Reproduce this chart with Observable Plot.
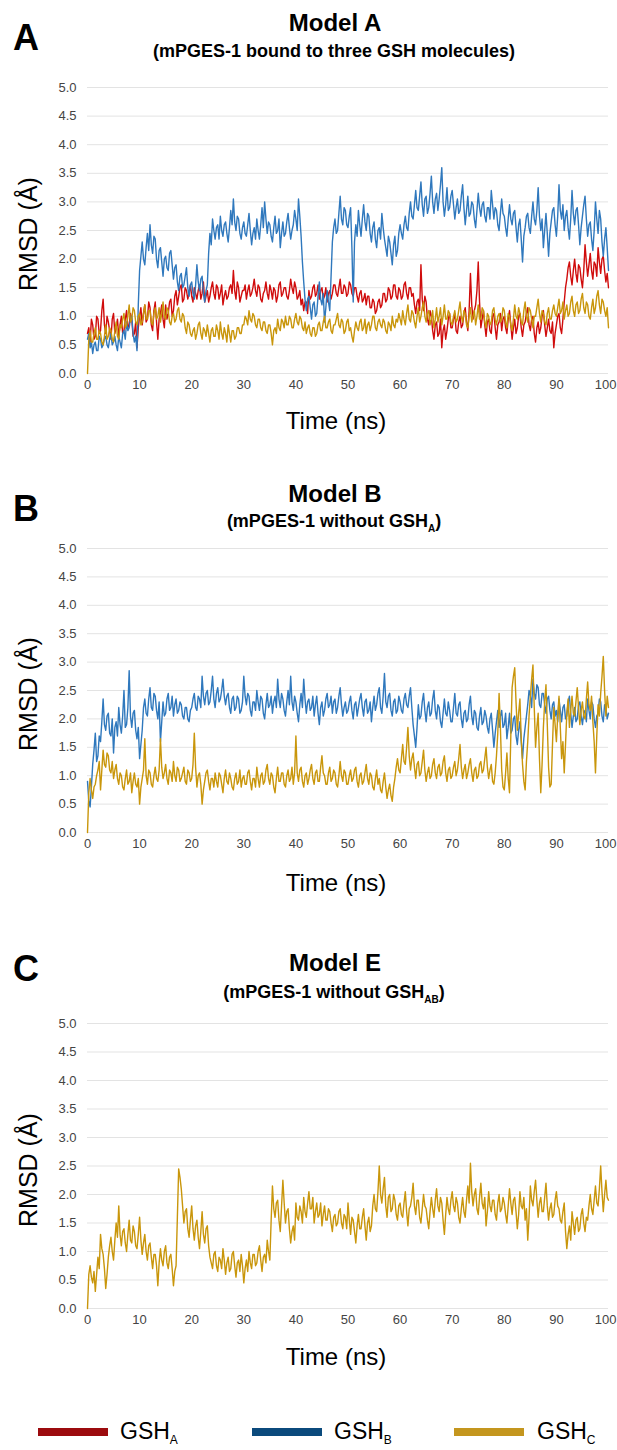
<!DOCTYPE html>
<html>
<head>
<meta charset="utf-8">
<script src="https://cdn.jsdelivr.net/npm/d3@7"></script>
<script src="https://cdn.jsdelivr.net/npm/@observablehq/plot@0.6"></script>
<style>
  html, body { margin: 0; padding: 0; background: #fff; }
  #page { position: relative; width: 617px; height: 1450px; overflow: hidden; font-family: "Liberation Sans", Arial, sans-serif; color: #000; }
  .abs { position: absolute; white-space: nowrap; line-height: 1; }
  .letter { font-size: 36px; font-weight: bold; }
  .title { font-size: 24px; font-weight: bold; transform: translateX(-50%); }
  .subtitle { font-size: 18px; font-weight: bold; transform: translateX(-50%); }
  .sub { font-size: 10px; position: relative; top: 5px; }
  .xlabel { font-size: 24px; transform: translateX(-50%); }
  .ylabel { font-size: 25px; transform: translate(-50%, -50%) rotate(-90deg); }
  .plot { position: absolute; left: 0; }
  .swatch { position: absolute; height: 8px; width: 70px; }
  .leg { font-size: 23px; }
  .legsub { font-size: 12px; position: relative; top: 5px; }
</style>
</head>
<body>
<div id="page"></div>
<script>
// ---------------- DATA ----------------
const timeStep = 0.25; // ns between samples (401 samples, 0–100 ns)
const xTicks = [0, 10, 20, 30, 40, 50, 60, 70, 80, 90, 100];
const yTicks = [0, 0.5, 1, 1.5, 2, 2.5, 3, 3.5, 4, 4.5, 5];
const seriesNames = ["GSH_A", "GSH_B", "GSH_C"];

// Model A — RMSD (Å) every 0.25 ns, one row = 10 ns
const modelA_GSHA = [
  0.70,0.80,0.55,0.95,0.85,0.60,0.65,1.00,0.95,0.70,0.75,1.10,1.30,0.85,0.70,1.00,0.90,0.75,0.60,0.95,1.05,0.70,0.80,0.95,0.65,0.85,1.00,0.70,0.75,0.95,1.10,0.80,0.85,1.05,0.95,0.65,0.70,0.90,0.45,0.80,
  1.00,1.15,0.85,1.05,1.20,0.90,0.95,1.25,1.15,0.85,0.75,1.10,1.25,0.90,0.60,0.95,1.05,1.20,0.95,0.80,1.20,0.95,1.05,1.25,1.30,1.00,1.10,1.35,1.45,1.20,1.35,1.50,1.55,1.25,1.30,1.50,1.45,1.30,1.40,1.55,
  1.35,1.25,1.50,1.40,1.30,1.45,1.55,1.30,1.40,1.60,1.25,1.35,1.45,1.25,1.35,1.50,1.60,1.40,1.30,1.55,1.50,1.30,1.40,1.55,1.20,1.35,1.45,1.30,1.35,1.50,1.55,1.40,1.80,1.45,1.30,1.60,1.50,1.25,1.35,1.45,
  1.45,1.55,1.30,1.45,1.55,1.35,1.40,1.50,1.65,1.45,1.35,1.55,1.50,1.30,1.25,1.40,1.45,1.60,1.40,1.30,1.55,1.45,1.30,1.50,1.45,1.25,1.35,1.55,1.60,1.35,1.40,1.50,1.50,1.35,1.30,1.45,1.65,1.50,1.40,1.60,
  1.50,1.30,1.35,1.45,1.20,1.30,1.10,1.25,1.25,1.05,1.45,1.30,1.35,1.50,1.55,1.35,1.40,1.55,1.30,1.45,1.50,1.30,1.35,1.50,1.25,1.40,1.45,1.30,1.40,1.55,1.55,1.40,1.35,1.50,1.65,1.40,1.40,1.55,1.50,1.35,
  1.40,1.60,1.55,1.40,1.35,1.50,1.50,1.35,1.25,1.40,1.45,1.25,1.30,1.40,1.20,1.35,1.35,1.15,1.15,1.30,1.25,1.05,1.10,1.25,1.30,1.15,1.20,1.40,1.40,1.25,1.30,1.50,1.45,1.30,1.35,1.55,1.55,1.35,1.30,1.50,
  1.45,1.30,1.35,1.55,1.60,1.40,1.30,1.50,1.50,1.35,1.40,1.20,1.05,1.25,1.30,1.10,1.90,1.30,1.10,1.35,1.25,0.95,0.85,1.10,1.00,0.75,0.60,0.85,0.90,0.65,0.70,0.95,0.45,0.75,0.85,0.60,0.75,0.95,1.05,0.80,
  0.80,0.95,1.05,0.75,0.70,0.90,1.00,0.80,0.85,1.05,1.15,0.90,0.75,1.10,1.75,1.20,0.95,1.10,1.20,1.45,1.95,1.25,0.80,0.95,1.10,0.85,0.65,0.90,0.95,0.75,0.70,1.00,1.05,0.80,0.60,0.85,0.90,1.05,0.75,0.95,
  1.00,0.80,0.70,0.95,1.10,0.85,0.60,0.80,0.95,0.70,0.80,1.00,1.05,0.80,0.65,0.85,0.90,1.05,1.15,0.85,0.75,0.95,1.00,0.70,0.55,0.80,0.90,0.70,0.80,1.00,1.10,0.85,0.65,0.80,0.95,0.75,0.70,0.90,0.45,0.70,
  0.85,1.00,1.05,0.80,0.70,0.95,1.25,1.50,1.65,1.85,1.95,1.70,1.55,1.80,2.00,1.75,1.60,1.90,1.85,1.65,1.50,1.80,2.25,1.95,1.70,1.90,2.10,1.80,1.65,1.95,1.90,1.70,2.20,1.95,1.75,2.00,2.05,1.80,1.60,1.75,
  1.50
];
const modelA_GSHB = [
  0.60,0.70,0.45,0.55,0.35,0.50,0.55,0.40,0.40,0.65,0.60,0.45,0.50,0.60,0.65,0.50,0.45,0.60,0.70,0.50,0.55,0.65,0.50,0.40,0.65,0.55,0.45,0.70,0.75,0.60,0.90,0.75,0.80,0.95,1.00,0.70,0.55,0.65,0.40,1.20,
  1.80,2.05,2.30,2.00,1.90,2.20,2.45,2.15,2.60,2.25,2.10,2.40,2.35,2.00,1.85,2.15,2.20,1.95,1.70,2.00,2.05,1.85,1.80,2.10,2.15,1.90,1.65,1.85,1.90,1.60,1.45,1.70,1.75,1.50,1.55,1.70,1.85,1.50,1.35,1.55,
  1.60,1.40,1.30,1.55,1.90,1.60,1.45,1.65,1.70,1.40,1.25,1.45,1.55,2.10,2.45,2.25,2.70,2.50,2.35,2.55,2.60,2.35,2.75,2.50,2.40,2.60,2.65,2.45,2.30,2.55,2.85,2.60,3.05,2.65,2.50,2.75,2.70,2.45,2.35,2.55,
  2.65,2.45,2.40,2.60,2.80,2.50,2.25,2.45,2.55,2.35,2.70,2.50,2.35,2.60,2.90,2.55,3.00,2.70,2.45,2.65,2.60,2.40,2.30,2.55,2.75,2.45,2.50,2.70,2.20,2.45,2.65,2.40,2.45,2.65,2.80,2.55,2.35,2.50,2.60,2.85,
  2.70,2.50,3.05,2.75,2.40,1.95,1.60,1.30,1.10,1.30,1.35,1.15,0.95,1.20,1.25,1.00,1.05,1.35,1.60,1.30,1.20,1.40,0.90,1.15,1.45,1.25,1.10,1.70,2.30,2.55,2.70,2.45,2.50,2.80,3.10,2.70,2.60,2.90,2.85,2.60,
  2.55,2.75,2.90,2.20,1.25,2.30,2.60,2.40,2.85,2.60,2.40,2.70,2.95,2.65,2.50,2.80,2.75,2.45,2.30,2.55,2.65,2.35,2.20,2.50,2.55,2.35,2.80,2.55,2.35,2.20,2.05,2.40,2.30,2.10,1.90,2.25,2.40,2.05,2.15,2.45,
  2.60,2.45,2.35,2.60,2.75,2.55,2.50,2.80,3.00,2.75,2.70,2.95,3.20,2.90,2.85,3.10,3.35,2.95,2.75,3.05,3.10,2.80,2.90,3.15,3.45,3.00,2.80,3.05,3.15,2.85,3.05,3.30,3.60,3.00,2.75,2.95,3.25,2.85,2.90,3.10,
  3.20,2.95,2.70,2.90,3.05,2.80,2.85,3.10,3.30,2.90,2.60,2.85,3.10,2.75,2.80,3.00,2.95,2.70,2.55,2.85,3.15,2.90,2.75,2.95,3.00,2.75,2.65,2.90,2.90,2.70,3.20,2.95,2.70,2.90,2.85,2.60,2.50,2.80,3.05,2.80,
  2.75,2.55,2.40,2.70,2.95,2.70,2.60,2.80,2.85,2.55,2.30,2.60,2.70,2.35,1.95,2.40,2.55,2.75,2.80,2.55,2.45,2.75,3.00,2.70,2.60,2.85,3.25,2.75,2.50,2.70,2.20,2.50,2.80,2.45,2.05,2.45,2.65,2.85,2.90,2.60,
  2.40,2.75,3.30,2.85,2.70,2.95,2.50,2.75,2.85,2.55,2.35,2.70,3.20,2.80,2.60,2.85,2.90,2.60,2.25,2.55,2.75,2.95,3.10,2.70,2.40,2.60,2.65,2.35,2.15,2.50,3.00,2.70,2.45,2.85,2.70,2.30,2.05,2.35,2.55,2.20,
  1.80
];
const modelA_GSHC = [
  0.00,0.60,0.75,0.55,0.55,0.70,0.80,0.60,0.60,0.75,0.70,0.55,0.50,0.65,0.85,0.60,0.65,0.80,0.75,0.60,0.55,0.75,0.90,0.65,0.60,0.85,0.80,0.95,1.05,0.80,0.85,1.00,1.20,0.90,0.95,1.15,1.10,0.90,0.85,1.00,
  1.05,0.85,0.90,1.05,1.20,0.95,0.95,1.10,1.10,0.90,0.85,1.05,1.15,0.95,1.00,1.15,0.90,1.05,1.25,1.00,0.95,1.15,1.10,0.90,0.85,1.00,1.05,0.90,0.95,1.10,1.15,0.95,0.90,1.05,1.00,0.80,0.70,0.90,0.85,0.70,
  0.65,0.75,0.80,0.60,0.70,0.85,0.90,0.70,0.60,0.80,0.75,0.65,0.85,0.70,0.55,0.75,0.80,0.65,0.65,0.85,0.75,0.60,0.90,0.70,0.60,0.80,0.70,0.55,0.85,0.70,0.55,0.75,0.75,0.60,0.65,0.80,0.80,0.70,0.70,0.85,
  0.85,1.00,0.95,0.85,1.10,0.95,0.90,1.05,1.00,0.85,0.80,0.95,0.95,0.80,0.75,0.90,0.90,0.75,0.70,0.85,0.85,0.70,0.50,0.75,0.80,0.70,0.95,0.80,0.75,0.95,0.90,0.80,1.00,0.85,0.85,1.00,0.95,0.80,0.80,0.95,
  1.05,0.90,0.85,1.00,0.95,0.80,0.75,0.90,0.70,0.80,0.85,0.70,0.65,0.80,0.80,0.65,0.70,0.85,0.90,0.75,0.75,0.90,1.00,0.80,0.80,0.90,0.95,0.75,0.70,0.85,0.85,0.95,1.05,0.85,0.80,0.95,0.90,0.70,0.75,0.90,
  0.95,0.75,0.80,0.65,0.55,0.75,0.90,0.80,0.75,0.90,0.95,0.75,0.80,0.95,0.70,0.85,0.90,0.75,0.85,1.00,1.00,0.80,0.75,0.90,0.95,0.85,0.80,0.95,0.90,0.75,0.70,0.90,0.85,0.75,1.00,0.85,0.80,0.95,0.90,1.05,
  0.95,0.85,1.10,0.95,0.85,1.05,1.20,0.95,0.90,1.10,1.05,0.90,0.80,1.00,1.15,0.90,1.00,1.15,1.25,1.00,0.90,1.05,1.10,0.85,0.95,1.10,0.80,0.95,1.15,0.90,1.00,1.15,0.85,1.00,1.20,0.95,0.95,1.10,1.05,0.90,
  0.85,1.00,1.10,0.90,0.95,1.10,1.25,1.00,0.90,1.10,1.05,0.85,0.80,1.00,1.15,0.90,1.00,1.10,0.85,1.00,1.20,0.95,0.95,1.15,1.10,0.90,0.80,1.05,1.00,0.85,0.90,1.10,1.15,0.95,0.85,1.00,1.05,0.90,0.95,1.15,
  1.10,0.90,0.80,1.05,1.00,0.85,0.75,0.95,1.20,1.00,0.95,1.15,1.05,0.90,0.85,1.10,1.25,1.00,0.90,1.15,1.10,0.95,0.80,1.00,1.00,1.15,1.30,1.05,0.90,1.10,1.05,0.90,0.85,1.05,1.15,0.95,0.95,1.10,1.20,1.05,
  1.00,1.15,1.30,1.05,1.10,1.25,0.95,1.10,1.20,1.00,1.05,1.25,1.35,1.10,1.00,1.20,1.25,1.05,1.10,1.30,1.40,1.15,1.05,1.25,1.20,1.00,0.95,1.15,1.30,1.05,1.15,1.35,1.45,1.20,1.05,1.30,1.25,1.10,1.00,1.15,
  0.80
];

// Model B
const modelB_GSHB = [
  0.90,0.55,0.45,0.80,1.20,1.45,1.75,1.25,1.35,1.70,1.60,1.95,2.35,1.90,1.80,2.05,2.10,1.75,1.70,2.00,1.40,1.85,1.95,1.70,2.20,1.90,1.75,2.05,2.50,1.85,1.90,2.20,2.85,2.05,1.85,2.10,2.15,1.80,1.65,1.85,
  1.30,1.55,1.80,2.20,2.35,2.10,2.05,2.35,2.55,2.20,2.15,2.45,2.40,2.15,2.00,2.30,1.60,1.95,2.30,2.05,2.10,2.35,2.45,2.15,2.20,2.40,2.05,2.25,2.35,2.10,2.15,2.30,2.25,2.05,2.00,2.20,2.20,2.00,1.95,2.15,
  2.20,2.35,2.45,2.20,2.15,2.40,2.35,2.20,2.75,2.40,2.25,2.45,2.50,2.25,2.30,2.50,2.75,2.35,2.20,2.45,2.55,2.30,2.35,2.50,2.70,2.40,2.25,2.40,2.45,2.20,2.10,2.35,2.40,2.15,2.20,2.40,2.35,2.10,2.15,2.30,
  2.75,2.40,2.25,2.45,2.40,2.15,2.05,2.30,2.30,2.15,2.50,2.30,2.15,2.40,2.35,2.10,2.00,2.25,2.45,2.20,2.25,2.40,2.10,2.30,2.40,2.20,2.70,2.35,2.20,2.45,2.35,2.15,2.05,2.30,2.50,2.25,2.75,2.30,2.15,2.40,
  2.30,2.10,1.95,2.25,2.45,2.20,2.70,2.35,2.10,2.30,2.35,2.15,2.20,2.40,2.05,2.25,2.40,2.10,1.90,2.20,2.30,2.05,2.15,2.35,2.45,2.20,2.25,2.40,2.10,2.30,2.35,2.10,2.20,2.40,2.55,2.25,2.05,2.20,2.30,2.10,
  2.15,2.30,2.40,2.15,2.00,2.25,2.30,2.05,2.20,2.35,2.45,2.20,2.05,2.30,2.35,2.10,2.15,2.30,1.95,2.20,2.40,2.15,2.25,2.45,2.55,2.20,2.10,2.40,2.80,2.30,2.20,2.40,2.45,2.15,2.05,2.30,2.35,2.10,2.15,2.40,
  2.30,2.15,2.10,2.35,2.45,2.25,2.20,2.40,2.55,2.20,1.90,1.70,1.50,1.85,2.25,2.00,2.05,2.30,2.45,2.15,1.95,2.20,2.30,2.05,2.10,2.35,2.50,2.15,2.00,2.25,2.20,1.95,1.85,2.10,2.35,2.10,2.05,2.30,2.15,1.95,
  1.95,2.20,2.45,2.10,2.05,2.25,2.30,2.00,1.85,2.10,2.15,1.95,2.00,2.25,2.40,2.05,1.90,2.15,2.10,1.85,1.80,2.05,2.20,1.90,1.95,2.15,2.05,1.85,1.75,2.00,2.10,1.80,1.50,1.75,1.95,2.15,1.85,2.05,2.15,1.85,
  1.90,2.10,1.65,1.85,2.10,1.75,1.80,2.00,2.05,1.70,1.55,1.80,1.95,1.60,1.30,1.65,1.85,2.05,2.25,2.50,2.40,2.20,2.70,2.45,2.35,2.60,2.55,2.25,2.20,2.45,2.45,2.25,2.10,2.35,2.40,2.15,2.00,2.25,2.30,2.05,
  2.15,1.95,2.35,2.15,1.95,2.20,2.25,2.00,2.05,2.30,2.40,2.10,1.85,2.05,2.20,1.95,2.00,2.25,2.30,2.05,1.90,2.10,2.15,1.95,2.35,2.15,2.00,2.30,2.25,2.00,1.85,2.05,2.10,2.35,2.30,2.05,1.95,2.25,2.20,2.00,
  2.10
];
const modelB_GSHC = [
  0.00,0.70,0.95,0.75,0.60,0.80,0.85,1.00,1.10,1.25,0.75,1.10,1.45,1.20,1.15,1.40,1.35,1.10,1.05,1.25,0.95,1.10,1.20,0.95,0.85,1.05,1.00,0.80,0.75,0.95,1.10,0.85,0.90,1.05,0.70,0.90,1.05,0.85,0.80,0.95,
  0.50,0.80,0.95,1.10,1.65,1.00,0.85,1.10,1.05,0.85,0.80,1.00,1.15,0.95,0.90,1.10,1.65,1.15,0.95,1.05,1.20,0.95,0.85,1.10,1.05,0.90,1.25,1.00,0.90,1.15,1.10,0.90,0.95,1.05,1.15,0.90,0.85,1.10,1.05,0.90,
  0.95,1.20,1.75,1.15,0.80,1.00,1.05,0.85,0.50,0.75,0.90,1.05,1.10,0.90,0.75,0.95,0.95,0.80,1.05,0.90,0.80,1.05,1.00,0.85,0.70,0.95,1.10,0.90,0.85,1.05,0.95,0.80,0.75,0.95,1.05,0.85,0.90,1.10,0.80,0.95,
  1.00,0.85,0.85,1.05,1.10,0.90,0.75,0.95,0.95,0.80,1.15,0.95,0.80,1.00,1.05,0.85,0.90,1.10,1.20,0.95,0.85,1.05,1.00,0.80,0.70,0.95,1.15,0.90,0.90,1.05,1.05,0.85,0.80,1.00,1.10,0.90,0.95,1.15,0.85,1.05,
  1.70,1.05,0.90,1.10,1.15,0.90,0.80,1.00,1.05,0.85,0.95,1.10,1.20,0.95,0.85,1.05,1.10,0.90,0.90,1.15,1.35,1.05,1.00,0.85,0.85,1.05,1.15,0.90,0.95,1.10,1.05,0.85,0.80,1.00,1.25,1.00,0.90,1.10,1.05,0.85,
  0.85,1.00,1.10,0.90,0.95,1.10,1.15,0.90,0.80,1.00,1.05,0.85,0.90,1.05,1.20,0.95,0.85,1.05,1.00,0.80,0.75,0.95,1.10,0.85,0.95,0.75,0.70,0.90,1.05,0.80,0.60,0.75,0.85,0.65,0.55,0.80,0.95,1.15,1.30,1.10,
  1.05,1.30,1.55,1.25,1.20,1.50,1.85,1.35,1.10,1.30,1.40,1.15,0.95,1.20,1.25,1.00,1.05,1.25,1.45,1.10,0.90,1.05,1.15,0.95,1.00,1.20,1.30,1.05,0.95,1.15,1.20,1.00,1.05,1.25,1.35,1.05,0.90,1.10,1.15,0.95,
  1.00,1.15,1.25,1.00,1.10,1.30,1.55,1.15,0.95,1.10,1.20,0.95,1.05,1.20,1.30,1.05,0.90,1.10,1.15,0.95,1.00,1.20,1.25,1.05,1.10,1.30,1.50,1.15,0.95,1.10,1.20,0.90,0.85,1.05,1.35,1.75,2.45,1.85,1.10,0.80,
  0.75,1.05,1.40,0.95,0.70,1.70,2.55,2.75,2.90,2.30,1.80,2.10,2.35,1.65,1.20,0.90,0.75,1.25,1.60,2.05,2.40,2.70,2.95,2.20,1.50,1.85,2.10,1.30,0.70,1.20,1.85,2.30,2.60,1.90,1.15,0.80,0.85,1.55,2.20,1.90,
  1.60,2.05,2.40,1.85,1.30,1.60,1.05,1.55,2.10,2.35,1.85,2.15,2.40,2.10,2.05,2.30,2.55,2.20,1.90,2.15,2.30,2.05,2.00,2.35,2.65,2.25,2.15,2.40,1.95,1.60,1.05,1.70,2.25,2.05,2.45,2.75,3.10,2.50,2.05,2.40,
  2.20
];

// Model E
const modelE_GSHC = [
  0.00,0.60,0.75,0.55,0.45,0.65,0.30,0.60,0.90,0.70,1.30,1.05,0.95,0.70,0.35,0.60,0.90,1.10,1.25,1.00,0.85,1.20,1.50,1.25,1.80,1.30,1.10,1.35,1.40,1.15,1.00,1.30,1.55,1.20,1.15,1.45,1.35,1.10,1.05,1.30,
  1.60,1.20,0.95,1.15,1.30,1.00,0.85,1.10,1.15,0.90,0.70,0.95,0.95,0.75,0.40,0.80,1.05,0.85,0.75,1.00,1.10,0.80,0.70,0.90,0.95,0.70,0.40,0.65,0.75,1.60,2.45,2.30,2.10,1.80,1.50,1.70,1.75,1.40,1.25,1.55,
  1.80,1.40,1.20,1.45,1.55,1.25,1.05,1.35,1.70,1.30,1.15,1.40,1.45,1.10,0.90,0.80,0.70,0.95,1.00,0.75,0.65,0.90,0.85,0.70,1.05,0.85,0.60,0.80,0.90,0.65,0.70,0.95,1.00,0.75,0.55,0.80,0.85,0.65,0.95,0.75,
  0.45,0.70,0.85,0.65,1.00,0.80,0.70,0.95,0.95,0.75,0.80,1.00,1.10,0.85,0.65,0.90,0.95,0.80,1.20,1.00,0.85,1.55,2.15,1.75,1.60,1.85,1.90,1.55,1.35,1.80,2.25,1.85,1.50,1.70,1.75,1.40,1.15,1.35,1.45,1.20,
  1.85,1.60,1.55,1.80,1.70,1.50,1.95,1.70,1.60,1.85,2.05,1.75,1.75,1.95,1.50,1.70,1.85,1.60,1.65,1.85,1.45,1.65,1.80,1.55,1.55,1.75,1.70,1.50,1.35,1.60,1.65,1.45,1.50,1.70,1.75,1.50,1.40,1.65,1.60,1.40,
  1.85,1.55,1.30,1.60,1.55,1.35,1.15,1.45,1.65,1.40,1.40,1.60,1.75,1.45,1.20,1.50,1.60,1.35,1.45,1.80,2.00,1.75,1.70,2.05,2.50,2.00,1.85,2.10,2.30,1.80,1.60,1.95,2.00,1.70,1.75,2.00,1.90,1.65,1.55,1.80,
  1.85,1.65,1.60,1.85,2.05,1.70,1.45,1.75,1.80,1.95,2.20,1.80,1.65,1.90,1.90,1.60,1.50,1.75,2.00,1.80,1.75,1.55,1.40,1.70,1.95,1.75,1.60,1.90,2.10,1.80,1.70,1.95,1.85,1.55,1.30,1.65,1.95,1.75,1.65,1.90,
  2.05,1.80,1.70,1.95,1.85,1.60,1.50,1.75,1.95,1.70,1.60,1.90,2.15,1.85,2.55,2.05,1.80,2.00,2.10,1.75,1.65,1.95,2.20,1.85,1.75,1.95,1.45,1.70,2.05,1.80,1.70,1.90,1.90,1.65,1.55,1.85,2.00,1.70,1.75,1.95,
  1.85,1.65,1.50,1.80,2.10,1.85,1.65,1.90,1.95,1.70,1.40,1.65,2.05,1.80,1.75,1.95,1.55,1.75,1.20,1.60,2.15,1.90,1.80,2.05,2.25,1.90,1.60,1.85,1.95,1.70,1.70,1.95,2.20,1.80,1.55,1.75,1.85,1.60,1.65,1.90,
  2.05,1.80,1.75,1.55,1.50,1.70,1.85,1.35,1.05,1.30,1.45,1.20,1.70,1.50,1.30,1.55,1.60,1.35,1.40,1.65,1.75,1.50,1.35,1.60,1.55,1.80,2.00,1.75,1.65,1.90,2.15,1.85,1.80,2.10,2.50,2.05,1.70,2.00,2.25,1.95,
  1.90
];

const lineColors = { GSH_A: "#d00c0c", GSH_B: "#2f78bd", GSH_C: "#c9960b" };
const legendColors = { GSH_A: "#9c0b0e", GSH_B: "#0b4a7c", GSH_C: "#c4961e" };

// ---------------- LAYOUT ----------------
const page = document.getElementById("page");
function addText(cls, html, left, top) {
  const d = document.createElement("div");
  d.className = "abs " + cls;
  d.innerHTML = html;
  d.style.left = left + "px";
  d.style.top = top + "px";
  page.appendChild(d);
  return d;
}
function toRows(arr, name) {
  return arr.map((v, i) => ({ t: i * timeStep, v, s: name }));
}

const panels = [
  { letter: "A", title: "Model A", subtitle: "(mPGES-1 bound to three GSH molecules)",
    letterC: 38, titleC: 23, subC: 51, y5: 87, y0: 373, timeC: 421,
    series: [["GSH_A", modelA_GSHA], ["GSH_B", modelA_GSHB], ["GSH_C", modelA_GSHC]] },
  { letter: "B", title: "Model B", subtitle: "(mPGES-1 without GSH<span class='sub'>A</span>)",
    letterC: 509, titleC: 494, subC: 521, y5: 548, y0: 832, timeC: 883,
    series: [["GSH_B", modelB_GSHB], ["GSH_C", modelB_GSHC]] },
  { letter: "C", title: "Model E", subtitle: "(mPGES-1 without GSH<span class='sub'>AB</span>)",
    letterC: 969, titleC: 963, subC: 992, y5: 1023, y0: 1308, timeC: 1357,
    series: [["GSH_C", modelE_GSHC]] }
];

const mL = 87, mR = 9, padTop = 20, padBottom = 30;
for (const p of panels) {
  const rows = p.series.flatMap(([name, arr]) => toRows(arr, name));
  const plotH = p.y0 - p.y5;
  const chart = Plot.plot({
    width: 617,
    height: padTop + plotH + padBottom,
    marginLeft: mL, marginRight: mR, marginTop: padTop, marginBottom: padBottom,
    style: { fontFamily: "'Liberation Sans', Arial, sans-serif", fontSize: "13px", color: "#444", background: "transparent", overflow: "visible" },
    x: { domain: [0, 100], label: null },
    y: { domain: [0, 5], label: null },
    color: { domain: seriesNames, range: seriesNames.map(n => lineColors[n]) },
    marks: [
      Plot.gridY(yTicks, { stroke: "#e3e3e3", strokeOpacity: 1, strokeWidth: 1 }),
      Plot.line(rows, { x: "t", y: "v", z: "s", stroke: "s", strokeWidth: 1.4 }),
      Plot.axisX(xTicks.slice(0, -1), { tickSize: 0, tickPadding: 6, label: null }),
      Plot.axisX(xTicks.slice(-1), { tickSize: 0, tickPadding: 6, label: null, textAnchor: "end", dx: 8 }),
      Plot.axisY(yTicks, { tickSize: 0, tickPadding: 11, tickFormat: d3.format(".1f"), label: null })
    ]
  });
  chart.classList.add("plot");
  chart.style.top = (p.y5 - padTop) + "px";
  page.appendChild(chart);

  addText("letter", p.letter, 13, p.letterC - 0.49 * 36);
  addText("title", p.title, 335, p.titleC - 0.49 * 24);
  addText("subtitle", p.subtitle, 334, p.subC - 0.49 * 18);
  addText("xlabel", "Time (ns)", 336, p.timeC - 0.49 * 24);
  addText("ylabel", "RMSD (Å)", 28, (p.y5 + p.y0) / 2 + 4);
}

// Legend
const legend = [
  ["GSH_A", "A", 38, 120],
  ["GSH_B", "B", 252, 334],
  ["GSH_C", "C", 454, 537]
];
for (const [name, subL, sx, tx] of legend) {
  const sw = document.createElement("div");
  sw.className = "swatch";
  sw.style.left = sx + "px";
  sw.style.top = (1432 - 4) + "px";
  sw.style.background = legendColors[name];
  page.appendChild(sw);
  addText("leg", "GSH<span class='legsub'>" + subL + "</span>", tx, 1431 - 0.49 * 23);
}
</script>
</body>
</html>
